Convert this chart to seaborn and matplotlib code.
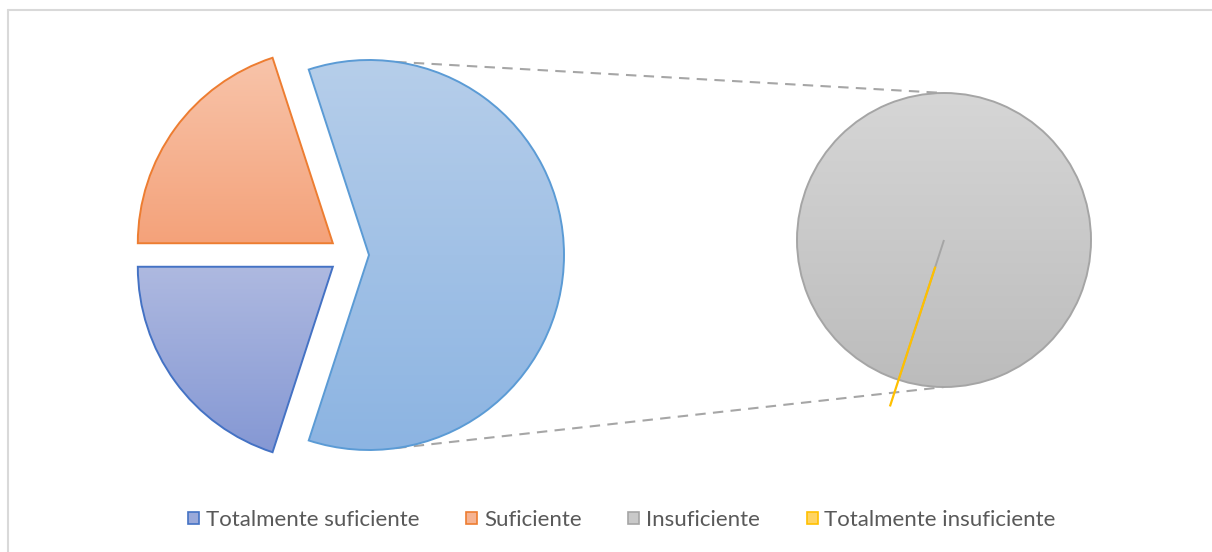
import numpy as np
import matplotlib
matplotlib.use("Agg")
import matplotlib.pyplot as plt
from matplotlib.patches import Patch
from matplotlib.colors import to_rgb
from matplotlib.lines import Line2D
import seaborn as sns

# ---- data ----
categories = ["Totalmente suficiente", "Suficiente", "Insuficiente", "Totalmente insuficiente"]
values = [20, 20, 60, 0]
n_main = 2  # first two categories in the main pie, rest go to the secondary pie

# ---- style ----
edge_colors = ["#4472C4", "#ED7D31", "#A5A5A5", "#FFC000"]
grad_top = ["#AEB9E0", "#F8C4AA", "#D6D6D6", "#FFE08A"]
grad_bot = ["#8598D4", "#F4A27A", "#BCBCBC", "#FFC83A"]
other_edge = "#5B9BD5"
other_top, other_bot = "#B6CEEA", "#8CB4E2"

sns.set_theme(style="white")
plt.rcParams["font.family"] = ["Lato", "DejaVu Sans"]

W, H = 1212, 552
fig = plt.figure(figsize=(W / 100, H / 100), dpi=100)
ax = fig.add_axes([0, 0, 1, 1])

main_center = (349, H - 255)
main_r = 195
sec_center = (944, H - 240)
sec_r = 147

main_vals = values[:n_main] + [sum(values[n_main:])]
main_edges = edge_colors[:n_main] + [other_edge]
main_tops = grad_top[:n_main] + [other_top]
main_bots = grad_bot[:n_main] + [other_bot]
start = 252

wedges_main, _ = ax.pie(main_vals, center=main_center, radius=main_r, startangle=start,
                        counterclock=False, explode=[20, 20, 20],
                        wedgeprops=dict(linewidth=1.4), frame=False)

sec_vals = values[n_main:]
wedges_sec, _ = ax.pie(sec_vals, center=sec_center, radius=sec_r, startangle=start,
                       counterclock=False, explode=[0, 28],
                       wedgeprops=dict(linewidth=1.6), frame=False)


def gradient_fill(w, top, bot):
    ext = w.get_path().get_extents(w.get_transform() - ax.transData)
    c1, c2 = np.array(to_rgb(top)), np.array(to_rgb(bot))
    t = np.linspace(0, 1, 256)[:, None, None]
    img = c1 * (1 - t) + c2 * t
    im = ax.imshow(img, extent=[ext.x0, ext.x1, ext.y0, ext.y1], origin="upper",
                   aspect="auto", zorder=1, interpolation="bilinear")
    im.set_clip_path(w)
    w.set_facecolor("none")
    w.set_zorder(2)


for w, ec, tc, bc in zip(wedges_main, main_edges, main_tops, main_bots):
    w.set_edgecolor(ec)
    gradient_fill(w, tc, bc)

for i, w in enumerate(wedges_sec):
    ci = n_main + i
    w.set_edgecolor(edge_colors[ci])
    if sec_vals[i] > 0:
        gradient_fill(w, grad_top[ci], grad_bot[ci])
        w.set_linewidth(1.4)
    else:
        w.set_facecolor("none")
        w.set_zorder(3)

# radial edge of the full secondary slice
a = np.deg2rad(start)
ax.plot([sec_center[0], sec_center[0] + sec_r * np.cos(a)],
        [sec_center[1], sec_center[1] + sec_r * np.sin(a)],
        color=edge_colors[2], lw=1.4, zorder=2.5, solid_capstyle="butt")

# connector lines
oc = (main_center[0] + 20, main_center[1])
for sgn in (1, -1):
    ang = np.deg2rad(82 * sgn)
    x0, y0 = oc[0] + main_r * np.cos(ang), oc[1] + main_r * np.sin(ang)
    x1, y1 = sec_center[0], sec_center[1] + sgn * sec_r
    ax.plot([x0, x1], [y0, y1], color="#A6A6A6", lw=1.5, ls=(0, (5, 3.5)), zorder=0.5)

ax.set_xlim(0, W)
ax.set_ylim(0, H)
ax.set_aspect("auto")
ax.axis("off")

# chart border (top and left visible)
fig.add_artist(Line2D([8 / W, 1], [1 - 10 / H, 1 - 10 / H], color="#D9D9D9", lw=1.5, transform=fig.transFigure))
fig.add_artist(Line2D([8 / W, 8 / W], [0, 1 - 10 / H], color="#D9D9D9", lw=1.5, transform=fig.transFigure))

# legend
handles = []
for i, c in enumerate(categories):
    mid = (np.array(to_rgb(grad_top[i])) + np.array(to_rgb(grad_bot[i]))) / 2
    handles.append(Patch(facecolor=mid, edgecolor=edge_colors[i], linewidth=1.2, label=c))
fig.legend(handles=handles, loc="center", bbox_to_anchor=(622 / W, 1 - 520 / H), ncol=4,
           frameon=False, fontsize=16, labelcolor="#595959", handlelength=0.5,
           handleheight=0.5, handletextpad=0.3, columnspacing=2.1, borderaxespad=0)

fig.savefig("out.png", dpi=100)
